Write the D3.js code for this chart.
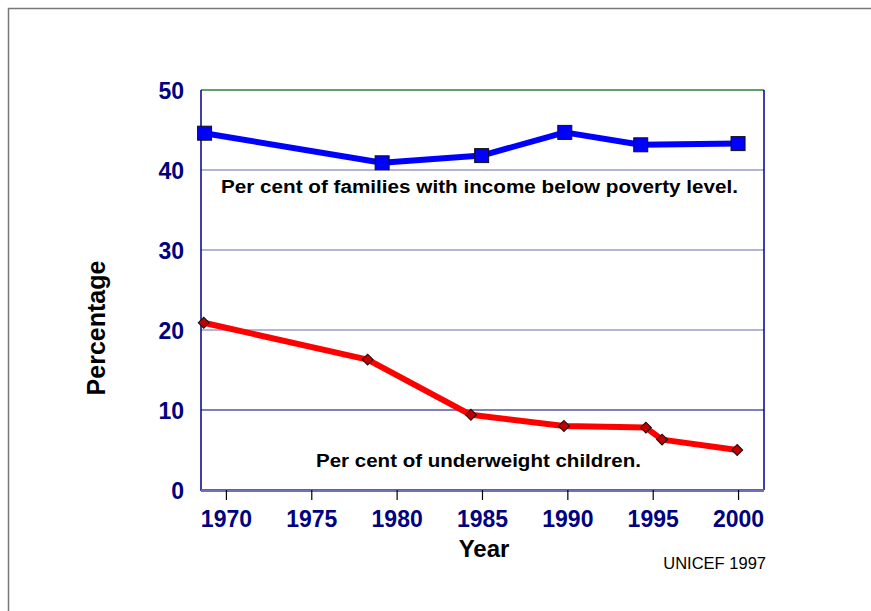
<!DOCTYPE html>
<html><head><meta charset="utf-8">
<script src="https://cdn.jsdelivr.net/npm/d3@7"></script>
<style>body{margin:0;background:#fff}svg{display:block}text{font-family:"Liberation Sans",Arial,sans-serif}</style>
</head><body>
<svg id="c" width="871" height="611"></svg>
<script>
const povertyYears = [1968.75, 1979.15, 1984.98, 1989.85, 1994.3, 2000.0];
const povertyValues = [44.6, 40.9, 41.8, 44.7, 43.15, 43.3];
const underweightYears = [1968.7, 1978.3, 1984.35, 1989.8, 1994.6, 1995.55, 1999.95];
const underweightValues = [20.9, 16.3, 9.4, 8.0, 7.8, 6.3, 5.0];
const xTicks = [1970, 1975, 1980, 1985, 1990, 1995, 2000];
const yTicks = [0, 10, 20, 30, 40, 50];

const svg = d3.select("#c");
const L = 201, R = 764, T = 90, B = 490;
const x = d3.scaleLinear().domain([1968.54, 2001.52]).range([L, R]);
const y = d3.scaleLinear().domain([0, 50]).range([B, T]);
const FONT = "Liberation Sans, Arial, sans-serif";

// outer frame
svg.append("rect").attr("x", 8.5).attr("y", 8.5).attr("width", 900).attr("height", 700)
  .attr("fill", "none").attr("stroke", "#777").attr("stroke-width", 1.5);

// gridlines
svg.append("g").selectAll("line").data([10, 20, 30, 40]).join("line")
  .attr("x1", L).attr("x2", R).attr("y1", d => y(d)).attr("y2", d => y(d))
  .attr("stroke", d => d === 10 ? "#000080" : "#6a6ab0").attr("stroke-width", 1.2);

// frame of plot
svg.append("line").attr("x1", L).attr("x2", R).attr("y1", T).attr("y2", T).attr("stroke", "#2e7d3a").attr("stroke-width", 1.3);
svg.append("line").attr("x1", R).attr("x2", R).attr("y1", T).attr("y2", B).attr("stroke", "#000090").attr("stroke-width", 1.5);
svg.append("line").attr("x1", L).attr("x2", L).attr("y1", T).attr("y2", B + 1).attr("stroke", "#000080").attr("stroke-width", 1.5);
svg.append("line").attr("x1", L).attr("x2", R).attr("y1", B + 1).attr("y2", B + 1).attr("stroke", "#7070c0").attr("stroke-width", 2);
svg.append("line").attr("x1", L).attr("x2", R).attr("y1", B - 0.5).attr("y2", B - 0.5).attr("stroke", "#3a8a3a").attr("stroke-width", 1);

// x axis
const xAxis = d3.axisBottom(x).tickValues(xTicks).tickSize(10).tickFormat(d3.format("d"));
const gx = svg.append("g").attr("transform", `translate(0,${B})`).call(xAxis);
gx.select(".domain").remove();
gx.selectAll(".tick line").attr("stroke", "#000").attr("stroke-width", 1.2);
gx.selectAll(".tick text").attr("fill", "#000080").attr("font-size", 23).attr("font-weight", "bold")
  .attr("font-family", FONT).attr("y", 37).attr("dy", 0);

// y axis
const yAxis = d3.axisLeft(y).tickValues(yTicks).tickSize(0).tickFormat(d3.format("d"));
const gy = svg.append("g").attr("transform", `translate(${L},0)`).call(yAxis);
gy.select(".domain").remove();
gy.selectAll(".tick text").attr("fill", "#000080").attr("font-size", 23).attr("font-weight", "bold")
  .attr("font-family", FONT).attr("x", -17).attr("dy", "0.36em");

// lines
const line = d3.line().x(d => x(d[0])).y(d => y(d[1]));
const pov = povertyYears.map((d, i) => [d, povertyValues[i]]);
const und = underweightYears.map((d, i) => [d, underweightValues[i]]);
svg.append("path").datum(pov).attr("d", line).attr("fill", "none").attr("stroke", "#0000ff").attr("stroke-width", 6).attr("stroke-linejoin", "round");
svg.append("path").datum(und).attr("d", line).attr("fill", "none").attr("stroke", "#ff0000").attr("stroke-width", 6).attr("stroke-linejoin", "round");

// markers
svg.append("g").selectAll("rect").data(pov).join("rect")
  .attr("x", d => x(d[0]) - 7).attr("y", d => y(d[1]) - 7).attr("width", 14).attr("height", 14)
  .attr("fill", "#0000ff").attr("stroke", "#111").attr("stroke-width", 1);
svg.append("g").selectAll("path").data(und).join("path")
  .attr("d", d3.symbol().type(d3.symbolSquare).size(60))
  .attr("transform", d => `translate(${x(d[0])},${y(d[1])}) rotate(45)`)
  .attr("fill", "#c00000").attr("stroke", "#111").attr("stroke-width", 1);

// annotations
svg.append("text").attr("x", 221).attr("y", 193).attr("font-size", 18).attr("font-weight", "bold").attr("fill", "#000")
  .attr("textLength", 517).attr("lengthAdjust", "spacingAndGlyphs")
  .text("Per cent of families with income below poverty level.");
svg.append("text").attr("x", 316).attr("y", 467).attr("font-size", 18).attr("font-weight", "bold").attr("fill", "#000")
  .attr("textLength", 325).attr("lengthAdjust", "spacingAndGlyphs")
  .text("Per cent of underweight children.");

// axis titles
svg.append("text").attr("x", 484).attr("y", 557).attr("text-anchor", "middle").attr("font-size", 24).attr("font-weight", "bold").text("Year");
svg.append("text").attr("transform", "translate(105,328) rotate(-90)").attr("text-anchor", "middle").attr("font-size", 25).attr("font-weight", "bold").text("Percentage");
svg.append("text").attr("x", 766).attr("y", 569).attr("text-anchor", "end").attr("font-size", 16.5).attr("fill", "#000").text("UNICEF 1997");
</script>
</body></html>
